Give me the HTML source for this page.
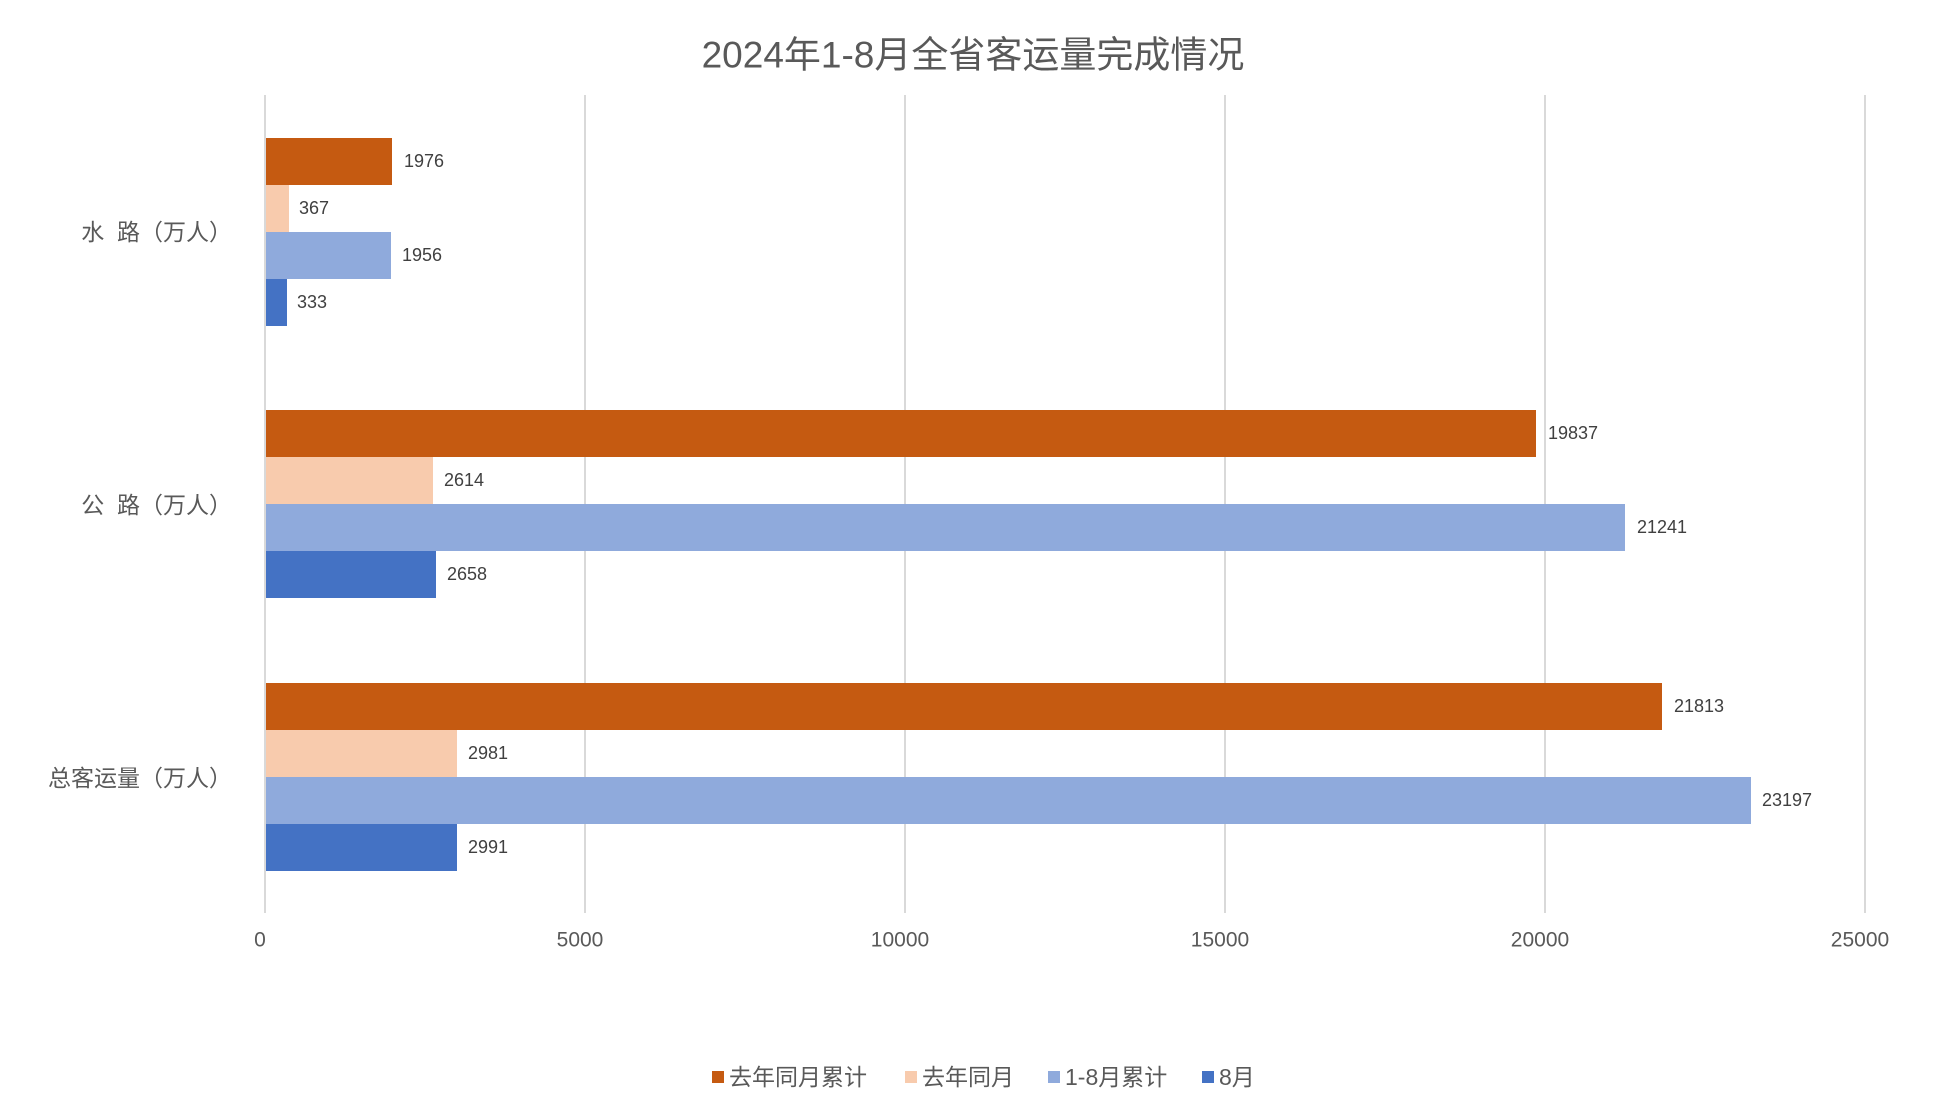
<!DOCTYPE html>
<html><head><meta charset="utf-8"><style>
body{margin:0;background:#fff;}
svg{display:block;font-family:"Liberation Sans","Noto Sans CJK SC",sans-serif;}
</style></head><body>
<svg width="1957" height="1109" viewBox="0 0 1957 1109" xmlns="http://www.w3.org/2000/svg">
<rect width="1957" height="1109" fill="#fff"/>
<text x="973" y="55" font-size="37" fill="#595959" text-anchor="middle" dominant-baseline="central">2024年1-8月全省客运量完成情况</text>
<g stroke="#d9d9d9" stroke-width="2">
<line x1="265" y1="95" x2="265" y2="913"/>
<line x1="585" y1="95" x2="585" y2="913"/>
<line x1="905" y1="95" x2="905" y2="913"/>
<line x1="1225" y1="95" x2="1225" y2="913"/>
<line x1="1545" y1="95" x2="1545" y2="913"/>
<line x1="1865" y1="95" x2="1865" y2="913"/>
</g>
<g font-size="21" fill="#595959" text-anchor="middle" dominant-baseline="central">
<text x="260" y="940">0</text><text x="580" y="940">5000</text><text x="900" y="940">10000</text>
<text x="1220" y="940">15000</text><text x="1540" y="940">20000</text><text x="1860" y="940">25000</text>
</g>
<g font-size="23" fill="#595959" text-anchor="end" dominant-baseline="central">
<text x="232" y="232">水&#160;&#160;路（万人）</text>
<text x="232" y="505">公&#160;&#160;路（万人）</text>
<text x="232" y="778">总客运量（万人）</text>
</g>
<rect x="266" y="138" width="126" height="47" fill="#c55a11"/>
<rect x="266" y="185" width="23" height="47" fill="#f8cbad"/>
<rect x="266" y="232" width="125" height="47" fill="#8faadc"/>
<rect x="266" y="279" width="21" height="47" fill="#4472c4"/>
<rect x="266" y="410" width="1270" height="47" fill="#c55a11"/>
<rect x="266" y="457" width="167" height="47" fill="#f8cbad"/>
<rect x="266" y="504" width="1359" height="47" fill="#8faadc"/>
<rect x="266" y="551" width="170" height="47" fill="#4472c4"/>
<rect x="266" y="683" width="1396" height="47" fill="#c55a11"/>
<rect x="266" y="730" width="191" height="47" fill="#f8cbad"/>
<rect x="266" y="777" width="1485" height="47" fill="#8faadc"/>
<rect x="266" y="824" width="191" height="47" fill="#4472c4"/>
<g font-size="18" fill="#404040" dominant-baseline="central">
<text x="404" y="161">1976</text><text x="299" y="208">367</text><text x="402" y="255">1956</text><text x="297" y="302">333</text>
<text x="1548" y="433">19837</text><text x="444" y="480">2614</text><text x="1637" y="527">21241</text><text x="447" y="574">2658</text>
<text x="1674" y="706">21813</text><text x="468" y="753">2981</text><text x="1762" y="800">23197</text><text x="468" y="847">2991</text>
</g>
<g font-size="23" fill="#595959" dominant-baseline="central">
<rect x="712" y="1071" width="12" height="12" fill="#c55a11"/><text x="729" y="1077">去年同月累计</text>
<rect x="905" y="1071" width="12" height="12" fill="#f8cbad"/><text x="922" y="1077">去年同月</text>
<rect x="1048" y="1071" width="12" height="12" fill="#8faadc"/><text x="1065" y="1077">1-8月累计</text>
<rect x="1202" y="1071" width="12" height="12" fill="#4472c4"/><text x="1219" y="1077">8月</text>
</g>
</svg>
</body></html>
